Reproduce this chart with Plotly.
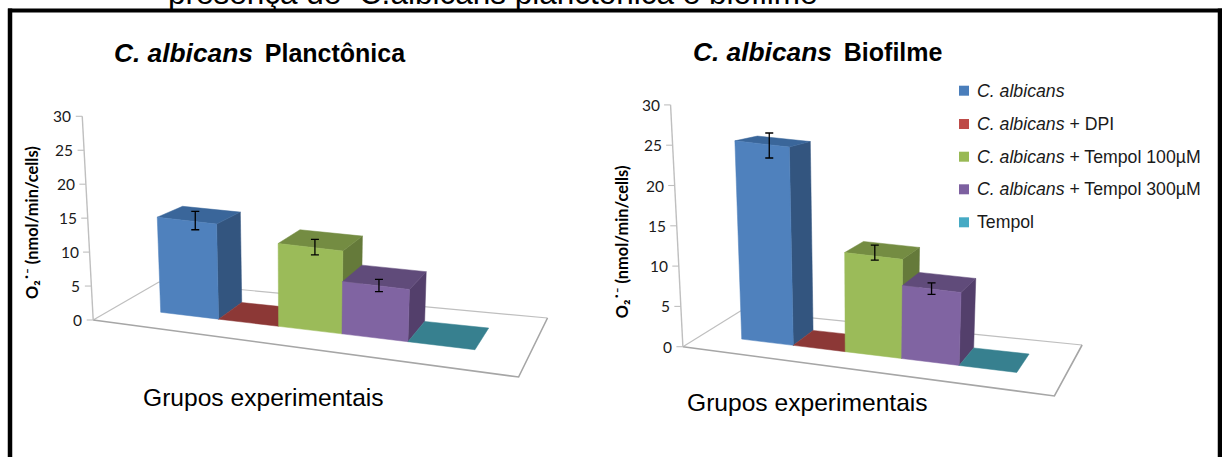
import plotly.graph_objects as go

# ---------- data ----------
SERIES = ["<i>C. albicans</i>", "<i>C. albicans</i> + DPI", "<i>C. albicans</i> + Tempol 100µM",
          "<i>C. albicans</i> + Tempol 300µM", "Tempol"]
PLANK_VALUES = [14.0, 0, 12.2, 7.7, 0]
PLANK_ERRORS = [1.35, 0, 1.15, 0.9, 0]
PLANK_ERR_MID = [14.0, 0, 12.2, 7.7, 0]
BIOF_VALUES = [24.6, 0, 12.3, 9.05, 0]
BIOF_ERRORS = [1.55, 0, 0.93, 0.72, 0]
BIOF_ERR_MID = [24.4, 0, 12.7, 9.1, 0]
TICKS = [0, 5, 10, 15, 20, 25, 30]
Y_TITLE = "<b>O₂˙⁻ (nmol/min/cells)</b>"
X_TITLE = "Grupos experimentais"

# ---------- styles ----------
FRONT = ["#4F81BD", "#C0504D", "#9BBB59", "#8064A2", "#4BACC6"]
TOP = ["#3A669A", "#8C3836", "#748C42", "#604B7A", "#37808F"]
SIDE = ["#33557F", "#7A3230", "#657A3A", "#533F6B", "#2F6E7C"]
LEGEND_C = ["#4A7EBB", "#BE4B48", "#98B954", "#7D60A0", "#46AAC4"]
GREY = "#A6A6A6"
LIGHT = "#BFBFBF"


class Chart:
    """Oblique projection of a floor quad plus vertical value scale, in page pixels."""

    def __init__(s, corners, scale, edges, v0, v1, xv, k, shrink, verr):
        (x0, y0), (x1, y1), (x2, y2), (x3, y3) = corners
        dx1, dx2, sx = x1 - x2, x3 - x2, x0 - x1 + x2 - x3
        dy1, dy2, sy = y1 - y2, y3 - y2, y0 - y1 + y2 - y3
        det = dx1 * dy2 - dx2 * dy1
        s.g = (sx * dy2 - dx2 * sy) / det
        s.h = (dx1 * sy - sx * dy1) / det
        s.a, s.b, s.c = x1 - x0 + s.g * x1, x3 - x0 + s.h * x3, x0
        s.d, s.e, s.f = y1 - y0 + s.g * y1, y3 - y0 + s.h * y3, y0
        s.corners, s.scale, s.edges = corners, scale, edges
        s.v0, s.v1, s.xv, s.k, s.shrink, s.verr = v0, v1, xv, k, shrink, verr

    def floor(s, u, v):
        w = s.g * u + s.h * v + 1
        return (s.a * u + s.b * v + s.c) / w, (s.d * u + s.e * v + s.f) / w

    def point(s, u, v, value):
        x, y = s.floor(u, v)
        px = value * s.scale * (1 - s.shrink * max(v - s.v0, 0))
        return x + (x - s.xv) * px * s.k, y - px


LEFT = Chart([(93.2, 320), (518.6, 377), (547.5, 318), (159, 282)], 6.79,
             [.1438, .3135, .4728, .6253, .7692, .9019], .32, .71, 300, 2.6e-4, .125, .42)
RIGHT = Chart([(682.9, 346.7), (1054.4, 396), (1082.1, 345), (740.9, 310.7)], 8.06,
              [.1334, .2987, .4533, .6093, .7568, .8942], .32, .70, 865, 2.8e-4, .125, .36)

fig = go.Figure()


def poly(pts, color):
    fig.add_trace(go.Scatter(x=[p[0] for p in pts] + [pts[0][0]], y=[p[1] for p in pts] + [pts[0][1]],
                             mode="lines", fill="toself", fillcolor=color,
                             line=dict(width=0.5, color=color), hoverinfo="skip", showlegend=False))


def line(pts, color, width):
    fig.add_trace(go.Scatter(x=[p[0] for p in pts], y=[p[1] for p in pts], mode="lines",
                             line=dict(width=width, color=color), hoverinfo="skip", showlegend=False))


annotations = []


def text(x, y, t, size, family="Liberation Sans", color="#000000", xanchor="center", angle=0):
    annotations.append(dict(x=x, y=y, xref="x", yref="y", text=t, showarrow=False, textangle=angle,
                            xanchor=xanchor, yanchor="middle", align="left",
                            font=dict(size=size, family=family, color=color)))


def draw(ch, values, errors, mids):
    c = ch.corners
    # floor outline
    line([c[3], c[2]], LIGHT, 1.2)
    line([c[3], c[0]], LIGHT, 1.2)
    line([c[0], c[1], c[2]], GREY, 1.6)
    # value axis, ticks and labels
    line([ch.point(0, 0, TICKS[0]), ch.point(0, 0, TICKS[-1])], LIGHT, 1.4)
    for t in TICKS:
        x, y = ch.point(0, 0, t)
        line([(x, y), (x - 6.5, y)], LIGHT, 1.1)
        text(x - 9, y, str(t), 15.5, "Lato", "#1a1a1a", "right")
    # bars, back to front
    for i, val in enumerate(values):
        u0, u1 = ch.edges[i], ch.edges[i + 1]
        v0, v1 = ch.v0, ch.v1
        if val > 0:
            poly([ch.point(u1, v0, 0), ch.point(u1, v1, 0), ch.point(u1, v1, val), ch.point(u1, v0, val)], SIDE[i])
        poly([ch.point(u0, v0, val), ch.point(u1, v0, val), ch.point(u1, v1, val), ch.point(u0, v1, val)], TOP[i])
        if val > 0:
            poly([ch.point(u0, v0, 0), ch.point(u1, v0, 0), ch.point(u1, v0, val), ch.point(u0, v0, val)], FRONT[i])
    # error bars, through the native error_y
    for i, (mid, err) in enumerate(zip(mids, errors)):
        if err > 0:
            um = (ch.edges[i] + ch.edges[i + 1]) / 2
            x = ch.floor(um, ch.verr)[0]
            yc = ch.point(um, ch.v0, mid)[1]
            fig.add_trace(go.Scatter(x=[x], y=[yc], mode="markers", marker=dict(size=1, opacity=0),
                                     error_y=dict(type="data", array=[err * ch.scale], symmetric=True,
                                                  color="#000000", thickness=1.3, width=4),
                                     hoverinfo="skip", showlegend=False))


draw(LEFT, PLANK_VALUES, PLANK_ERRORS, PLANK_ERR_MID)
draw(RIGHT, BIOF_VALUES, BIOF_ERRORS, BIOF_ERR_MID)

# legend
fig.add_trace(go.Scatter(x=[964] * 5, y=[90.7, 124, 156.7, 189.3, 222.3], mode="markers",
                         marker=dict(symbol="square", size=10, color=LEGEND_C),
                         hoverinfo="skip", showlegend=False))
for name, yy in zip(SERIES, [90.7, 124, 156.7, 189.3, 222.3]):
    text(974.5, yy, name, 17.7, "Liberation Sans", "#1a1a1a", "left")

# titles
ITALIC = '<span style="font-size:26.3px"><i>C. albicans</i></span>'
text(111.5, 53, f"<b>{ITALIC}&nbsp;\u2009Planctônica</b>", 25, xanchor="left")
text(691, 52, f"<b>{ITALIC}&nbsp;\u2009Biofilme</b>", 25, xanchor="left")
text(263.5, 397, X_TITLE, 24.6)
text(807, 402, X_TITLE, 24.6)
text(31, 223, Y_TITLE, 16.4, "Lato", "#000000", "center", -90)
text(621.8, 241.5, Y_TITLE, 16.4, "Lato", "#000000", "center", -90)

# caption cut off by the top of the page
annotations.append(dict(x=166, y=1.0, xref="x", yref="paper", yanchor="middle", xanchor="left",
                        yshift=7, showarrow=False,
                        text="presença de  C.albicans planctonica e biofilme",
                        font=dict(size=31.5, family="Liberation Sans", color="#000000")))

# frame around the panel: left, top and right only
shapes = [dict(type="line", xref="x", yref="y", x0=x0, y0=y0, x1=x1, y1=y1, line=dict(color="#000000", width=w))
          for x0, y0, x1, y1, w in [(10, 8.5, 10, 457, 4.5), (8, 10.5, 1222, 10.5, 4), (1220, 8.5, 1220, 457, 4.5)]]

fig.update_layout(width=1222, height=457, margin=dict(l=0, r=0, t=0, b=0), paper_bgcolor="white",
                  plot_bgcolor="white", showlegend=False, annotations=annotations, shapes=shapes,
                  xaxis=dict(range=[0, 1222], visible=False, fixedrange=True),
                  yaxis=dict(range=[457, 0], visible=False, fixedrange=True))
fig.write_html("out.html", config={"displayModeBar": False},
               post_script="document.body.style.margin='0';document.body.style.overflow='hidden';")
